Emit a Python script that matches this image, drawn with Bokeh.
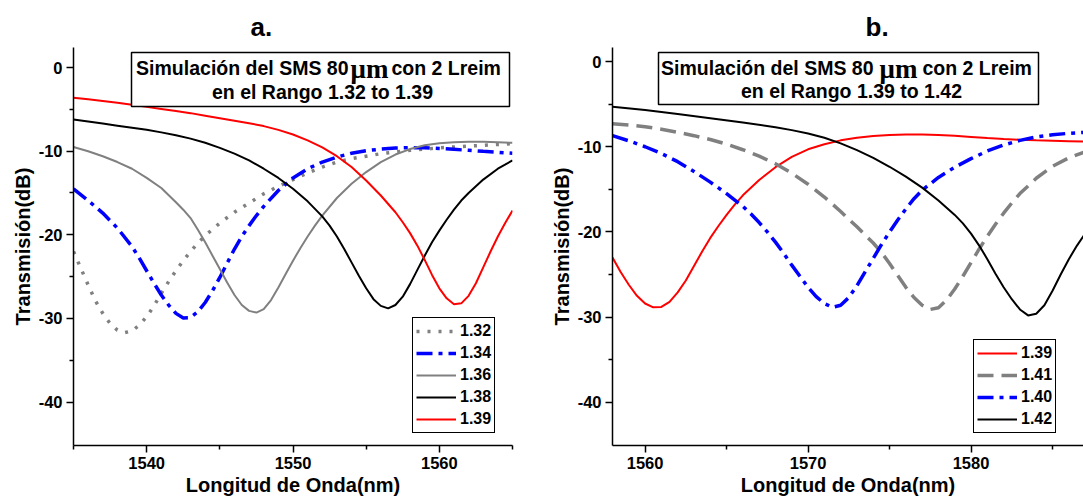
from bokeh.plotting import figure
from bokeh.layouts import row
from bokeh.models import Legend, LegendItem, Label, BoxAnnotation, FixedTicker, Range1d
from bokeh.embed import file_html
from bokeh.resources import INLINE

# ---------------- data : panel a ----------------
a_labels = ["1.32", "1.34", "1.36", "1.38", "1.39"]
a_132_x = [1535, 1535.5, 1536, 1536.5, 1537, 1537.5, 1538, 1538.5, 1539, 1539.5,
           1540, 1540.5, 1541, 1541.5, 1542, 1542.5, 1543, 1543.5, 1544,
           1545, 1546, 1547, 1548, 1549, 1550, 1551, 1552, 1553, 1554, 1555, 1556,
           1557, 1558, 1559, 1560, 1561, 1562, 1563, 1564, 1565]
a_132_y = [-22.0, -24.0, -26.0, -27.9, -29.4, -30.6, -31.4, -31.7, -31.5, -30.8,
           -29.8, -28.5, -27.0, -25.6, -24.3, -23.1, -22.0, -21.0, -20.1,
           -18.6, -17.3, -16.2, -15.1, -14.2, -13.4, -12.6, -11.9, -11.3, -10.9, -10.6, -10.3,
           -10.1, -9.9, -9.75, -9.6, -9.5, -9.4, -9.3, -9.2, -9.1]
a_134_x = [1535, 1536, 1537, 1538, 1539,
           1539.5, 1540, 1540.5, 1541, 1541.5, 1542, 1542.5, 1543, 1543.5, 1544, 1544.5, 1545, 1545.5, 1546,
           1546.5, 1547, 1547.5, 1548,
           1549, 1550, 1551, 1552, 1553, 1554, 1555, 1556, 1557, 1558, 1559, 1560,
           1561, 1562, 1563, 1564, 1565]
a_134_y = [-14.5, -15.9, -17.4, -19.2, -21.4,
           -22.8, -24.3, -25.8, -27.2, -28.4, -29.4, -29.95, -29.9, -29.2, -28.1, -26.7, -25.1, -23.4, -21.7,
           -20.2, -18.9, -17.7, -16.6,
           -14.7, -13.2, -12.1, -11.3, -10.7, -10.25, -9.95, -9.75, -9.62, -9.58, -9.6, -9.68,
           -9.78, -9.9, -10.02, -10.13, -10.25]
a_136_x = [1535, 1536, 1537, 1538, 1539, 1540, 1541, 1542, 1542.5, 1543, 1543.5, 1544,
           1544.5, 1545, 1545.5, 1546, 1546.5, 1547, 1547.5, 1548, 1548.5, 1549, 1549.5, 1550, 1550.5, 1551,
           1551.5, 1552, 1553, 1554, 1555, 1556, 1557, 1558, 1559, 1560, 1561, 1562, 1563, 1564, 1565]
a_136_y = [-9.5, -10.0, -10.6, -11.3, -12.1, -13.2, -14.4, -16.1, -17.0, -18.0, -19.4, -20.9,
           -22.5, -24.1, -25.7, -27.2, -28.4, -29.1, -29.3, -28.9, -27.8, -26.3, -24.7, -23.1, -21.6, -20.2,
           -18.9, -17.7, -15.6, -13.9, -12.5, -11.3, -10.4, -9.75, -9.3, -9.05, -8.93, -8.88, -8.88, -8.93, -9.0]
a_138_x = [1535, 1536, 1537, 1538, 1539, 1540, 1541, 1542, 1543, 1544, 1545, 1546, 1547, 1548, 1549,
           1550, 1551, 1552, 1552.5, 1553,
           1553.5, 1554, 1554.5, 1555, 1555.5, 1556, 1556.5, 1557, 1557.5, 1558, 1558.5, 1559, 1559.5,
           1560, 1560.5, 1561, 1561.5,
           1562, 1563, 1564, 1565]
a_138_y = [-6.2, -6.45, -6.7, -6.95, -7.2, -7.45, -7.75, -8.1, -8.5, -9.0, -9.6, -10.3, -11.1, -12.1, -13.2,
           -14.5, -16.0, -17.8, -18.9, -20.2,
           -21.7, -23.3, -24.9, -26.4, -27.7, -28.5, -28.8, -28.4, -27.4, -25.9, -24.2, -22.5, -20.9,
           -19.5, -18.2, -17.0, -15.9,
           -15.0, -13.4, -12.1, -11.1]
a_139_x = [1535, 1536, 1537, 1538, 1539, 1540, 1541, 1542, 1543, 1544, 1545, 1546, 1547, 1548, 1549,
           1550, 1551, 1552, 1553, 1554, 1555, 1556, 1557, 1557.5, 1558,
           1558.5, 1559, 1559.5, 1560, 1560.5, 1561, 1561.5, 1562, 1562.5, 1563, 1563.5, 1564, 1564.5, 1565]
a_139_y = [-3.6, -3.8, -4.0, -4.2, -4.45, -4.7, -4.95, -5.2, -5.45, -5.75, -6.05, -6.35, -6.65, -7.0, -7.45,
           -8.0, -8.7, -9.55, -10.6, -11.9, -13.5, -15.3, -17.3, -18.5, -19.8,
           -21.3, -23.0, -24.8, -26.4, -27.6, -28.3, -28.2, -27.3, -25.8, -23.9, -22.0, -20.2, -18.6, -17.1]

# ---------------- data : panel b ----------------
b_labels = ["1.39", "1.41", "1.40", "1.42"]
b_139_x = [1558, 1558.5, 1559, 1559.5, 1560, 1560.5, 1561, 1561.5, 1562, 1562.5, 1563, 1563.5, 1564, 1564.5, 1565,
           1565.5, 1566, 1567, 1568, 1569, 1570, 1571, 1572, 1573, 1574, 1575, 1576, 1577, 1578, 1579, 1580,
           1581, 1582, 1583, 1584, 1585, 1586, 1587]
b_139_y = [-23.0, -24.7, -26.2, -27.5, -28.4, -28.85, -28.8, -28.2, -27.1, -25.7, -24.0, -22.3, -20.7, -19.3, -18.0,
           -16.8, -15.7, -13.9, -12.4, -11.2, -10.3, -9.7, -9.25, -8.95, -8.75, -8.62, -8.57, -8.57, -8.62, -8.72,
           -8.85, -8.98, -9.1, -9.18, -9.25, -9.3, -9.35, -9.4]
b_141_x = [1558, 1559, 1560, 1561, 1562, 1563, 1564, 1565, 1566, 1567, 1568, 1569, 1570, 1571, 1572, 1573, 1574,
           1574.5, 1575, 1575.5, 1576, 1576.5, 1577, 1577.5, 1578, 1578.5, 1579, 1579.5, 1580, 1580.5, 1581,
           1581.5, 1582, 1582.5, 1583,
           1584, 1585, 1586, 1587]
b_141_y = [-7.3, -7.45, -7.65, -7.95, -8.3, -8.7, -9.15, -9.7, -10.35, -11.1, -12.0, -13.1, -14.4, -15.9, -17.6,
           -19.4, -21.3,
           -22.4, -23.7, -25.1, -26.5, -27.7, -28.6, -29.1, -28.9, -28.0, -26.7, -25.2, -23.6, -22.0, -20.5,
           -19.1, -17.8, -16.6, -15.5,
           -13.7, -12.3, -11.3, -10.6]
b_140_x = [1558, 1559, 1560, 1561, 1562, 1563, 1564, 1565, 1566, 1566.5, 1567,
           1567.5, 1568, 1568.5, 1569, 1569.5, 1570, 1570.5, 1571, 1571.5, 1572, 1572.5, 1573, 1573.5, 1574,
           1574.5, 1575, 1575.5, 1576, 1576.5, 1577,
           1578, 1579, 1580, 1581, 1582, 1583, 1584, 1585, 1586, 1587]
b_140_y = [-8.7, -9.3, -10.0, -10.8, -11.75, -12.9, -14.15, -15.5, -17.0, -17.9, -18.9,
           -20.0, -21.2, -22.5, -23.9, -25.2, -26.5, -27.6, -28.4, -28.85, -28.6, -27.7, -26.3, -24.7, -23.1,
           -21.5, -20.0, -18.6, -17.3, -16.1, -15.1,
           -13.6, -12.4, -11.4, -10.5, -9.8, -9.25, -8.85, -8.6, -8.42, -8.3]
b_142_x = [1558, 1560, 1562, 1564, 1566, 1568, 1569, 1570, 1571, 1572, 1573, 1574, 1575, 1576, 1577, 1578, 1579,
           1579.5, 1580, 1580.5, 1581, 1581.5, 1582, 1582.5, 1583, 1583.5, 1584, 1584.5, 1585, 1585.5, 1586,
           1586.5, 1587]
b_142_y = [-5.3, -5.7, -6.15, -6.65, -7.15, -7.7, -8.05, -8.45, -8.95, -9.6, -10.4, -11.3, -12.35, -13.5, -14.8,
           -16.3, -18.0,
           -19.0, -20.2, -21.6, -23.2, -24.9, -26.5, -27.9, -29.1, -29.8, -29.6, -28.6, -26.9, -25.0, -23.2,
           -21.6, -20.2]

# ---------------- ticks / texts ----------------
y_ticks = [0, -10, -20, -30, -40]
y_minor = [-5, -15, -25, -35]
a_xticks = [1540, 1550, 1560]
a_xminor = [1535, 1545, 1555, 1565]
b_xticks = [1560, 1570, 1580]
b_xminor = [1565, 1575, 1585]
x_title = "Longitud de Onda(nm)"
y_title = "Transmisión(dB)"
box_part1 = "Simulación del SMS 80"
box_mu = "μm"
box_part3 = "con 2 Lreim"
a_box_line2 = "en el Rango 1.32 to 1.39"
b_box_line2 = "en el Rango 1.39 to 1.42"

SANS = "Liberation Sans"
SERIF = "Liberation Serif"
TOP, FH = 47, 398   # frame top / height in px
GRAY = "#808080"


def panel(page_x, fig_w, left, right, xr, yr, xt, xm, title, title_left, series, labels,
          leg_px, box_px, text_px, line2):
    fw = fig_w - left - right
    p = figure(width=fig_w, height=503, x_range=Range1d(*xr), y_range=Range1d(*yr),
               output_backend="svg", toolbar_location=None,
               min_border_left=left, min_border_right=right, min_border_top=TOP,
               min_border_bottom=503 - TOP - FH)
    p.outline_line_color = None
    p.xgrid.visible = False
    p.ygrid.visible = False

    def X(px):
        return xr[0] + (px - page_x - left) / fw * (xr[1] - xr[0])

    def Y(py):
        return yr[1] - (py - TOP) / FH * (yr[1] - yr[0])

    p.xaxis.ticker = FixedTicker(ticks=xt, minor_ticks=xm)
    p.yaxis.ticker = FixedTicker(ticks=y_ticks, minor_ticks=y_minor)
    p.yaxis.major_label_overrides = {t: str(t) for t in y_ticks}
    for ax in (p.xaxis[0], p.yaxis[0]):
        ax.axis_line_width = 1.5
        ax.axis_line_color = "black"
        ax.major_tick_line_width = 1.5
        ax.minor_tick_line_width = 1.5
        ax.major_tick_out = 7
        ax.major_tick_in = 0
        ax.minor_tick_out = 4
        ax.minor_tick_in = 0
        ax.major_label_text_font = SANS
        ax.major_label_text_font_style = "bold"
        ax.major_label_text_font_size = "16.5px"
        ax.major_label_text_color = "black"
        ax.major_label_standoff = 4
        ax.axis_label_text_font = SANS
        ax.axis_label_text_font_style = "bold"
        ax.axis_label_text_font_size = "20px"
        ax.axis_label_text_color = "black"
        ax.axis_label_standoff = 2
    p.xaxis.axis_label = x_title
    p.yaxis.axis_label = y_title

    p.title.text = title
    p.title.text_font = SANS
    p.title.text_font_style = "bold"
    p.title.text_font_size = "26px"
    p.title.text_color = "black"
    p.title.align = "left"
    p.title.offset = title_left - page_x - left
    p.title.standoff = 11

    rends = []
    for (xs, ys, color, width, dash) in series:
        rends.append(p.line(xs, ys, line_color=color, line_width=width, line_dash=dash))

    items = [LegendItem(label=lab, renderers=[r]) for lab, r in zip(labels, rends)]
    leg = Legend(items=items, location=(leg_px[0] - page_x - left, TOP + FH - leg_px[1]))
    leg.border_line_color = "black"
    leg.border_line_alpha = 1
    leg.border_line_width = 1.5
    leg.background_fill_color = "white"
    leg.background_fill_alpha = 1
    leg.padding = 3
    leg.spacing = 2
    leg.margin = 0
    leg.glyph_width = 40
    leg.glyph_height = 20
    leg.label_height = 20
    leg.label_standoff = 4
    leg.label_text_font = SANS
    leg.label_text_font_style = "bold"
    leg.label_text_font_size = "16px"
    leg.label_text_color = "black"
    p.add_layout(leg)

    bl, br, bt, bb = box_px
    p.add_layout(BoxAnnotation(left=X(bl), right=X(br), top=Y(bt), bottom=Y(bb),
                               fill_color="white", fill_alpha=1, line_color="black",
                               line_alpha=1, line_width=1.5))
    p1_right, mu_center, p3_left, l1_y, l2_center, l2_y = text_px
    common = dict(text_font=SANS, text_font_style="bold", text_font_size="19.5px",
                  text_color="black", text_baseline="middle")
    p.add_layout(Label(x=X(p1_right), y=Y(l1_y), text=box_part1, text_align="right", **common))
    p.add_layout(Label(x=X(mu_center), y=Y(l1_y + 1), text=box_mu, text_align="center",
                       text_font=SERIF, text_font_style="bold", text_font_size="27px",
                       text_color="black", text_baseline="middle"))
    p.add_layout(Label(x=X(p3_left), y=Y(l1_y), text=box_part3, text_align="left", **common))
    p.add_layout(Label(x=X(l2_center), y=Y(l2_y), text=line2, text_align="center", **common))
    return p


a_series = [(a_132_x, a_132_y, GRAY, 3.5, "3 8"),
            (a_134_x, a_134_y, "blue", 3.5, "16 6 4 6"),
            (a_136_x, a_136_y, GRAY, 2, "solid"),
            (a_138_x, a_138_y, "black", 2, "solid"),
            (a_139_x, a_139_y, "red", 2, "solid")]
b_series = [(b_139_x, b_139_y, "red", 2, "solid"),
            (b_141_x, b_141_y, GRAY, 3.5, "16 8"),
            (b_140_x, b_140_y, "blue", 3.5, "16 6 4 6"),
            (b_142_x, b_142_y, "black", 2, "solid")]

pa = panel(0, 540, 73, 28, (1535, 1565), (-45.2, 2.4), a_xticks, a_xminor, "a.", 250,
           a_series, a_labels, (412, 433),
           (131, 509, 52, 106), (348, 369, 391, 67, 322, 91), a_box_line2)
pb = panel(540, 543, 72, 0, (1558, 1586.9), (-45.07, 1.65), b_xticks, b_xminor, "b.", 865,
           b_series, b_labels, (973, 433),
           (658, 1038, 52, 104), (873, 898, 922, 67, 851, 90), b_box_line2)

layout = row(pa, pb)
open("out.html", "w").write(file_html(layout, INLINE))
